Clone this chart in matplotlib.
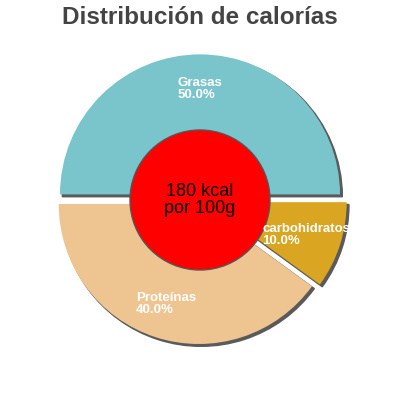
import numpy as np
import matplotlib as mpl
mpl.use('Agg')
from matplotlib import pyplot as plt

plt.rcParams['font.family'] = ['Liberation Sans', 'DejaVu Sans']

# datos
labels = ['Grasas', 'carbohidratos', 'Proteínas']
values = [50.0, 10.0, 40.0]
colors = ['#7AC4CC', '#DAA520', '#EEC591']
explode = [0.04, 0.05, 0.03]
kcal = 180

fig = plt.figure(figsize=(4, 4), dpi=100)
ax = fig.add_axes([0.1325, 0.1325, 0.735, 0.735])

wedges, texts = ax.pie(values, colors=colors, explode=explode, startangle=180,
                       counterclock=False, shadow={'ox': 0.012, 'oy': -0.012,
                                                    'color': '#5a5a5a', 'alpha': 1.0},
                       labels=[f'{l}\n{v:.1f}%' for l, v in zip(labels, values)],
                       labeldistance=0.75, radius=1.0)
for t in texts:
    t.set_color('white')
    t.set_fontsize(9.5)
    t.set_fontweight('bold')
    t.set_ha('center')
    t.set_va('center')
    t.set_multialignment('left')
    t.set_linespacing(1.0)
    t.set_zorder(12)

centre = plt.Circle((0, 0), 0.5, color='red', ec='#555555', lw=1.0, zorder=10)
ax.add_artist(centre)
ax.text(0, 0, f'{kcal} kcal\npor 100g', ha='center', va='center', fontsize=13,
        color='black', zorder=11, linespacing=1.0)

ax.set_xlim(-1.05, 1.05)
ax.set_ylim(-1.05, 1.05)
ax.set_aspect('equal')

fig.text(0.5, 0.955, 'Distribución de calorías', fontsize=17.5, fontweight='bold',
         color='#444444', ha='center', va='center')

plt.savefig('out.png', dpi=100)
